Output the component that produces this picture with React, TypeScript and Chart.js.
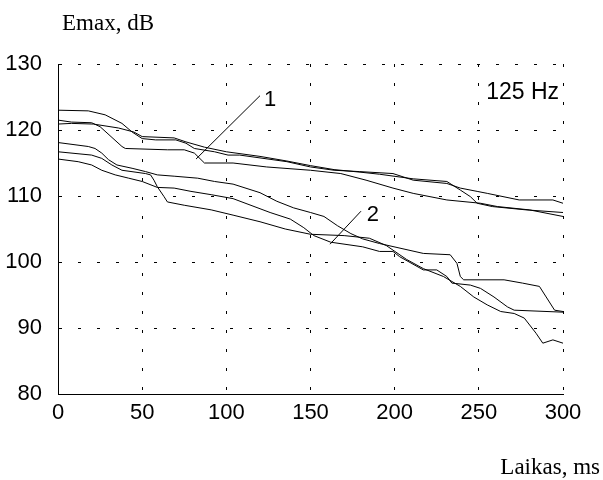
import React, { useEffect, useRef } from 'react';
import { Chart, registerables } from 'chart.js';

Chart.register(...registerables);

// Axis ranges / ticks
const xRange = [0, 300];
const yRange = [80, 130];
const xStep = 50;
const yStep = 10;

// Group "1" curves: [time ms, Emax dB]
const curve1a: [number, number][] = [
  [0, 123], [18, 122.9], [28, 122.3], [38, 121], [44, 119.7], [50, 118.7], [58, 118.5], [70, 118.5],
  [76, 118], [81, 117.2], [93, 116.7], [101, 116.2], [108, 116.2], [136, 115.2], [150, 114.4],
  [164, 113.9], [179, 113.7], [199, 113.4], [211, 112.4], [231, 111.9], [239, 111.2], [249, 110.7],
  [255, 110.4], [274, 109.4], [294, 109.4], [300, 108.9],
];
const curve1b: [number, number][] = [
  [0, 121.5], [8, 121.2], [20, 121.1], [25, 120.5], [38, 117.5], [40, 117.2], [65, 117], [75, 117],
  [81, 116.5], [87, 115], [104, 115], [124, 114.4], [150, 113.9], [168, 113.4], [183, 112.4],
  [199, 111.2], [211, 110.4], [231, 109.4], [251, 108.9], [261, 108.4], [280, 107.9], [300, 106.9],
];
const curve1c: [number, number][] = [
  [0, 120.9], [8, 121], [21, 120.9], [36, 120.3], [45, 119.7], [50, 119], [69, 118.8], [76, 118.2],
  [87, 117.4], [100, 116.7], [120, 116], [136, 115.3], [150, 114.6], [164, 114], [180, 113.6],
  [191, 113.3], [211, 112.6], [231, 112.2], [239, 110.9], [245, 109.9], [249, 108.9], [258, 108.4],
  [278, 107.9], [300, 107.5],
];

// Group "2" curves
const curve2a: [number, number][] = [
  [0, 118.1], [18, 117.5], [22, 117.2], [26, 116.5], [30, 115.5], [35, 114.7], [44, 114.2], [52, 113.7],
  [59, 113.2], [69, 113], [83, 112.7], [93, 112.2], [104, 111.8], [120, 110.5], [130, 109.2],
  [140, 108.2], [150, 107.5], [158, 106.9], [166, 105.5], [174, 104.3], [181, 103.5], [191, 102.8],
  [217, 101.3], [233, 101.1], [237, 99.8], [239, 97.8], [241, 97.3], [265, 97.3], [276, 96.8],
  [286, 96.3], [290, 94.7], [295, 92.7], [300, 92.5],
];
const curve2b: [number, number][] = [
  [0, 116.7], [20, 116.2], [26, 115.7], [32, 114.7], [38, 113.9], [52, 113.4], [55, 113.2], [57, 112.4],
  [59, 111.4], [63, 109.9], [65, 109.1], [75, 108.6], [91, 107.9], [104, 107.1], [120, 106.1],
  [135, 105], [150, 104.2], [170, 104], [185, 103.6], [195, 102.5], [207, 100.4], [217, 99],
  [229, 97.8], [239, 96.3], [247, 94.7], [255, 93.5], [263, 92.5], [271, 92.2], [277, 91.5],
  [284, 89.2], [288, 87.7], [294, 88.2], [300, 87.7],
];
const curve2c: [number, number][] = [
  [0, 115.6], [12, 115.2], [20, 114.7], [26, 113.9], [34, 113.2], [42, 112.7], [50, 112.2], [59, 111.3],
  [69, 111.2], [79, 110.7], [91, 110.2], [104, 109.6], [126, 107.5], [138, 106.5], [146, 105.2],
  [152, 104], [162, 103], [181, 102.3], [191, 101.6], [199, 101.6], [203, 100.8], [217, 98.8],
  [225, 98.8], [231, 97.8], [234, 96.8], [245, 96.5], [251, 96], [259, 94.7], [267, 93.2],
  [271, 92.7], [300, 92.4],
];

// Label pointers
const pointer1: [number, number][] = [[120, 125.2], [82, 115.6]];
const pointer2: [number, number][] = [[180, 107.7], [161.6, 102.7]];

// Annotation texts (data coordinates)
const annotationTexts = ['1', '2', '125 Hz'];
const annotationX = [126, 187, 276];
const annotationY = [124.5, 107.1, 125.6];

const yTitle = 'Emax, dB';
const xTitle = 'Laikas, ms';

const curves = [curve1a, curve1b, curve1c, curve2a, curve2b, curve2c, pointer1, pointer2];

export default function App() {
  const ref = useRef<HTMLCanvasElement | null>(null);

  useEffect(() => {
    if (!ref.current) return;
    const textPlugin = {
      id: 'texts',
      afterDraw(chart: any) {
        const ctx = chart.ctx;
        const xs = chart.scales.x;
        const ys = chart.scales.y;
        ctx.save();
        ctx.fillStyle = '#000';
        ctx.font = '23px "Liberation Serif", "Times New Roman", serif';
        ctx.textAlign = 'left';
        ctx.textBaseline = 'alphabetic';
        ctx.fillText(yTitle, 62, 30);
        ctx.textAlign = 'right';
        ctx.fillText(xTitle, 600, 474);
        ctx.font = '22px "Liberation Sans", Arial, sans-serif';
        ctx.textAlign = 'center';
        ctx.textBaseline = 'middle';
        annotationTexts.forEach((t, i) => {
          ctx.font = (i === 2 ? '23px' : '22px') + ' "Liberation Sans", Arial, sans-serif';
          ctx.fillText(t, xs.getPixelForValue(annotationX[i]), ys.getPixelForValue(annotationY[i]));
        });
        ctx.restore();
      },
    };

    const chart = new Chart(ref.current, {
      type: 'line',
      data: {
        datasets: curves.map((c) => ({
          data: c.map(([x, y]) => ({ x, y })),
          borderColor: '#000',
          borderWidth: 1,
          pointRadius: 0,
          tension: 0,
          fill: false,
        })),
      },
      options: {
        animation: false,
        responsive: false,
        maintainAspectRatio: false,
        layout: { padding: { left: 0, right: 40, top: 64, bottom: 0 } },
        plugins: { legend: { display: false }, tooltip: { enabled: false }, title: { display: false } },
        scales: {
          x: {
            type: 'linear',
            min: xRange[0],
            max: xRange[1],
            afterFit: (s: any) => { s.height = 86; },
            ticks: {
              stepSize: xStep,
              color: '#000',
              padding: 6,
              maxRotation: 0,
              font: { family: '"Liberation Sans", Arial, sans-serif', size: 22 },
            },
            grid: { color: '#000', lineWidth: 1, drawTicks: false },
            border: { display: true, color: '#000', width: 1, dash: [3, 16] },
          },
          y: {
            type: 'linear',
            min: yRange[0],
            max: yRange[1],
            afterFit: (s: any) => { s.width = 58; },
            ticks: {
              stepSize: yStep,
              color: '#000',
              padding: 16,
              font: { family: '"Liberation Sans", Arial, sans-serif', size: 22 },
            },
            grid: { color: '#000', lineWidth: 1, drawTicks: false },
            border: { display: true, color: '#000', width: 1, dash: [3, 16] },
          },
        },
      },
      plugins: [textPlugin],
    });
    return () => chart.destroy();
  }, []);

  return (
    <div style={{ position: 'absolute', left: 0, top: 0, width: 603, height: 480, background: '#fff' }}>
      <canvas ref={ref} width={603} height={480} />
    </div>
  );
}
